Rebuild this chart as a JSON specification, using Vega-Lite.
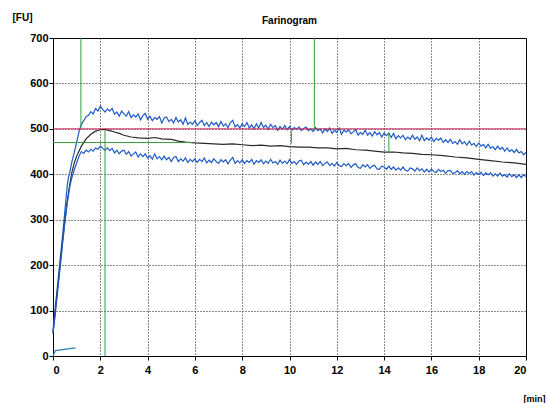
{
  "$schema": "https://vega.github.io/schema/vega-lite/v6.json",
  "width": 473,
  "height": 318,
  "autosize": {"type": "none"},
  "padding": {"left": 53, "top": 38, "right": 22, "bottom": 47},
  "background": "#ffffff",
  "config": {
    "font": "Liberation Sans",
    "view": {"stroke": "#000000", "strokeWidth": 1},
    "axis": {
      "labelFont": "Liberation Sans",
      "labelFontWeight": "bold",
      "labelFontSize": 11,
      "labelColor": "#000000",
      "domainColor": "#000000",
      "tickColor": "#000000",
      "gridColor": "#1a1a1a",
      "gridDash": [1, 2],
      "gridOpacity": 1,
      "gridWidth": 1,
      "titleFont": "Liberation Sans",
      "titleFontWeight": "bold",
      "titleFontSize": 10,
      "titleColor": "#000000"
    }
  },
  "title": {
    "text": "Farinogram",
    "fontSize": 10,
    "fontWeight": "bold",
    "font": "Liberation Sans",
    "anchor": "middle",
    "offset": -14,
    "color": "#000000"
  },
  "datasets": {
    "curves": [
      {"s": "start", "t": 0.0, "v": 0},
      {"s": "start", "t": 0.1, "v": 12},
      {"s": "start", "t": 0.95, "v": 18},

      {"s": "upper", "t": 0.0, "v": 55},
      {"s": "upper", "t": 0.1, "v": 110},
      {"s": "upper", "t": 0.2, "v": 160},
      {"s": "upper", "t": 0.3, "v": 212},
      {"s": "upper", "t": 0.4, "v": 262},
      {"s": "upper", "t": 0.5, "v": 318},
      {"s": "upper", "t": 0.6, "v": 375},
      {"s": "upper", "t": 0.65, "v": 392},
      {"s": "upper", "t": 0.7, "v": 402},
      {"s": "upper", "t": 0.8, "v": 428},
      {"s": "upper", "t": 0.9, "v": 448},
      {"s": "upper", "t": 1.0, "v": 470},
      {"s": "upper", "t": 1.1, "v": 494},
      {"s": "upper", "t": 1.2, "v": 510},
      {"s": "upper", "t": 1.3, "v": 518},
      {"s": "upper", "t": 1.4, "v": 527},
      {"s": "upper", "t": 1.5, "v": 530},
      {"s": "upper", "t": 1.6, "v": 538},
      {"s": "upper", "t": 1.7, "v": 533},
      {"s": "upper", "t": 1.8, "v": 545},
      {"s": "upper", "t": 1.9, "v": 539},
      {"s": "upper", "t": 2.0, "v": 550},
      {"s": "upper", "t": 2.1, "v": 543},
      {"s": "upper", "t": 2.2, "v": 537},
      {"s": "upper", "t": 2.3, "v": 544},
      {"s": "upper", "t": 2.4, "v": 539},
      {"s": "upper", "t": 2.5, "v": 545},
      {"s": "upper", "t": 2.6, "v": 532},
      {"s": "upper", "t": 2.7, "v": 537},
      {"s": "upper", "t": 2.8, "v": 528},
      {"s": "upper", "t": 2.9, "v": 539},
      {"s": "upper", "t": 3.0, "v": 533},
      {"s": "upper", "t": 3.1, "v": 528},
      {"s": "upper", "t": 3.2, "v": 538},
      {"s": "upper", "t": 3.3, "v": 525},
      {"s": "upper", "t": 3.4, "v": 531},
      {"s": "upper", "t": 3.5, "v": 526},
      {"s": "upper", "t": 3.6, "v": 533},
      {"s": "upper", "t": 3.7, "v": 520},
      {"s": "upper", "t": 3.8, "v": 529},
      {"s": "upper", "t": 3.9, "v": 534},
      {"s": "upper", "t": 4.0, "v": 521},
      {"s": "upper", "t": 4.1, "v": 528},
      {"s": "upper", "t": 4.2, "v": 518},
      {"s": "upper", "t": 4.3, "v": 525},
      {"s": "upper", "t": 4.4, "v": 521},
      {"s": "upper", "t": 4.5, "v": 527},
      {"s": "upper", "t": 4.6, "v": 513},
      {"s": "upper", "t": 4.7, "v": 524},
      {"s": "upper", "t": 4.8, "v": 526},
      {"s": "upper", "t": 4.9, "v": 516},
      {"s": "upper", "t": 5.0, "v": 521},
      {"s": "upper", "t": 5.1, "v": 513},
      {"s": "upper", "t": 5.2, "v": 525},
      {"s": "upper", "t": 5.3, "v": 515},
      {"s": "upper", "t": 5.4, "v": 520},
      {"s": "upper", "t": 5.5, "v": 510},
      {"s": "upper", "t": 5.6, "v": 524},
      {"s": "upper", "t": 5.7, "v": 510},
      {"s": "upper", "t": 5.8, "v": 515},
      {"s": "upper", "t": 5.9, "v": 510},
      {"s": "upper", "t": 6.0, "v": 518},
      {"s": "upper", "t": 6.1, "v": 507},
      {"s": "upper", "t": 6.2, "v": 514},
      {"s": "upper", "t": 6.3, "v": 519},
      {"s": "upper", "t": 6.4, "v": 507},
      {"s": "upper", "t": 6.5, "v": 514},
      {"s": "upper", "t": 6.6, "v": 505},
      {"s": "upper", "t": 6.7, "v": 515},
      {"s": "upper", "t": 6.8, "v": 509},
      {"s": "upper", "t": 6.9, "v": 514},
      {"s": "upper", "t": 7.0, "v": 505},
      {"s": "upper", "t": 7.1, "v": 516},
      {"s": "upper", "t": 7.2, "v": 506},
      {"s": "upper", "t": 7.3, "v": 511},
      {"s": "upper", "t": 7.4, "v": 503},
      {"s": "upper", "t": 7.5, "v": 514},
      {"s": "upper", "t": 7.6, "v": 519},
      {"s": "upper", "t": 7.7, "v": 504},
      {"s": "upper", "t": 7.8, "v": 509},
      {"s": "upper", "t": 7.9, "v": 502},
      {"s": "upper", "t": 8.0, "v": 511},
      {"s": "upper", "t": 8.1, "v": 505},
      {"s": "upper", "t": 8.2, "v": 514},
      {"s": "upper", "t": 8.3, "v": 502},
      {"s": "upper", "t": 8.4, "v": 509},
      {"s": "upper", "t": 8.5, "v": 500},
      {"s": "upper", "t": 8.6, "v": 511},
      {"s": "upper", "t": 8.7, "v": 502},
      {"s": "upper", "t": 8.8, "v": 514},
      {"s": "upper", "t": 8.9, "v": 503},
      {"s": "upper", "t": 9.0, "v": 508},
      {"s": "upper", "t": 9.1, "v": 499},
      {"s": "upper", "t": 9.2, "v": 510},
      {"s": "upper", "t": 9.3, "v": 503},
      {"s": "upper", "t": 9.4, "v": 507},
      {"s": "upper", "t": 9.5, "v": 497},
      {"s": "upper", "t": 9.6, "v": 505},
      {"s": "upper", "t": 9.7, "v": 499},
      {"s": "upper", "t": 9.8, "v": 507},
      {"s": "upper", "t": 9.9, "v": 498},
      {"s": "upper", "t": 10.0, "v": 505},
      {"s": "upper", "t": 10.1, "v": 497},
      {"s": "upper", "t": 10.2, "v": 503},
      {"s": "upper", "t": 10.3, "v": 499},
      {"s": "upper", "t": 10.4, "v": 504},
      {"s": "upper", "t": 10.5, "v": 496},
      {"s": "upper", "t": 10.6, "v": 501},
      {"s": "upper", "t": 10.7, "v": 504},
      {"s": "upper", "t": 10.8, "v": 496},
      {"s": "upper", "t": 10.9, "v": 500},
      {"s": "upper", "t": 11.0, "v": 494},
      {"s": "upper", "t": 11.1, "v": 503},
      {"s": "upper", "t": 11.2, "v": 496},
      {"s": "upper", "t": 11.3, "v": 500},
      {"s": "upper", "t": 11.4, "v": 491},
      {"s": "upper", "t": 11.5, "v": 500},
      {"s": "upper", "t": 11.6, "v": 494},
      {"s": "upper", "t": 11.7, "v": 502},
      {"s": "upper", "t": 11.8, "v": 490},
      {"s": "upper", "t": 11.9, "v": 497},
      {"s": "upper", "t": 12.0, "v": 492},
      {"s": "upper", "t": 12.1, "v": 502},
      {"s": "upper", "t": 12.2, "v": 488},
      {"s": "upper", "t": 12.3, "v": 497},
      {"s": "upper", "t": 12.4, "v": 493},
      {"s": "upper", "t": 12.5, "v": 498},
      {"s": "upper", "t": 12.6, "v": 489},
      {"s": "upper", "t": 12.7, "v": 494},
      {"s": "upper", "t": 12.8, "v": 498},
      {"s": "upper", "t": 12.9, "v": 486},
      {"s": "upper", "t": 13.0, "v": 492},
      {"s": "upper", "t": 13.1, "v": 488},
      {"s": "upper", "t": 13.2, "v": 497},
      {"s": "upper", "t": 13.3, "v": 486},
      {"s": "upper", "t": 13.4, "v": 492},
      {"s": "upper", "t": 13.5, "v": 484},
      {"s": "upper", "t": 13.6, "v": 494},
      {"s": "upper", "t": 13.7, "v": 487},
      {"s": "upper", "t": 13.8, "v": 492},
      {"s": "upper", "t": 13.9, "v": 482},
      {"s": "upper", "t": 14.0, "v": 491},
      {"s": "upper", "t": 14.1, "v": 485},
      {"s": "upper", "t": 14.2, "v": 491},
      {"s": "upper", "t": 14.3, "v": 481},
      {"s": "upper", "t": 14.4, "v": 490},
      {"s": "upper", "t": 14.5, "v": 478},
      {"s": "upper", "t": 14.6, "v": 485},
      {"s": "upper", "t": 14.7, "v": 480},
      {"s": "upper", "t": 14.8, "v": 486},
      {"s": "upper", "t": 14.9, "v": 476},
      {"s": "upper", "t": 15.0, "v": 482},
      {"s": "upper", "t": 15.1, "v": 477},
      {"s": "upper", "t": 15.2, "v": 486},
      {"s": "upper", "t": 15.3, "v": 477},
      {"s": "upper", "t": 15.4, "v": 482},
      {"s": "upper", "t": 15.5, "v": 474},
      {"s": "upper", "t": 15.6, "v": 486},
      {"s": "upper", "t": 15.7, "v": 474},
      {"s": "upper", "t": 15.8, "v": 480},
      {"s": "upper", "t": 15.9, "v": 475},
      {"s": "upper", "t": 16.0, "v": 482},
      {"s": "upper", "t": 16.1, "v": 472},
      {"s": "upper", "t": 16.2, "v": 479},
      {"s": "upper", "t": 16.3, "v": 475},
      {"s": "upper", "t": 16.4, "v": 480},
      {"s": "upper", "t": 16.5, "v": 470},
      {"s": "upper", "t": 16.6, "v": 476},
      {"s": "upper", "t": 16.7, "v": 470},
      {"s": "upper", "t": 16.8, "v": 477},
      {"s": "upper", "t": 16.9, "v": 468},
      {"s": "upper", "t": 17.0, "v": 472},
      {"s": "upper", "t": 17.1, "v": 466},
      {"s": "upper", "t": 17.2, "v": 476},
      {"s": "upper", "t": 17.3, "v": 467},
      {"s": "upper", "t": 17.4, "v": 472},
      {"s": "upper", "t": 17.5, "v": 464},
      {"s": "upper", "t": 17.6, "v": 473},
      {"s": "upper", "t": 17.7, "v": 464},
      {"s": "upper", "t": 17.8, "v": 468},
      {"s": "upper", "t": 17.9, "v": 461},
      {"s": "upper", "t": 18.0, "v": 469},
      {"s": "upper", "t": 18.1, "v": 462},
      {"s": "upper", "t": 18.2, "v": 466},
      {"s": "upper", "t": 18.3, "v": 458},
      {"s": "upper", "t": 18.4, "v": 466},
      {"s": "upper", "t": 18.5, "v": 457},
      {"s": "upper", "t": 18.6, "v": 461},
      {"s": "upper", "t": 18.7, "v": 454},
      {"s": "upper", "t": 18.8, "v": 462},
      {"s": "upper", "t": 18.9, "v": 455},
      {"s": "upper", "t": 19.0, "v": 459},
      {"s": "upper", "t": 19.1, "v": 451},
      {"s": "upper", "t": 19.2, "v": 458},
      {"s": "upper", "t": 19.3, "v": 450},
      {"s": "upper", "t": 19.4, "v": 454},
      {"s": "upper", "t": 19.5, "v": 448},
      {"s": "upper", "t": 19.6, "v": 455},
      {"s": "upper", "t": 19.7, "v": 447},
      {"s": "upper", "t": 19.8, "v": 450},
      {"s": "upper", "t": 19.9, "v": 443},
      {"s": "upper", "t": 20.0, "v": 449},

      {"s": "mean", "t": 0.0, "v": 50},
      {"s": "mean", "t": 0.1, "v": 100},
      {"s": "mean", "t": 0.2, "v": 150},
      {"s": "mean", "t": 0.3, "v": 200},
      {"s": "mean", "t": 0.4, "v": 250},
      {"s": "mean", "t": 0.5, "v": 298},
      {"s": "mean", "t": 0.6, "v": 340},
      {"s": "mean", "t": 0.7, "v": 375},
      {"s": "mean", "t": 0.8, "v": 405},
      {"s": "mean", "t": 0.9, "v": 425},
      {"s": "mean", "t": 1.0, "v": 440},
      {"s": "mean", "t": 1.2, "v": 462},
      {"s": "mean", "t": 1.4, "v": 478},
      {"s": "mean", "t": 1.6, "v": 488},
      {"s": "mean", "t": 1.8, "v": 495},
      {"s": "mean", "t": 2.0, "v": 498},
      {"s": "mean", "t": 2.2, "v": 499},
      {"s": "mean", "t": 2.4, "v": 496},
      {"s": "mean", "t": 2.6, "v": 493},
      {"s": "mean", "t": 2.8, "v": 490},
      {"s": "mean", "t": 3.0, "v": 486},
      {"s": "mean", "t": 3.3, "v": 482},
      {"s": "mean", "t": 3.6, "v": 480},
      {"s": "mean", "t": 4.0, "v": 479},
      {"s": "mean", "t": 4.3, "v": 481},
      {"s": "mean", "t": 4.6, "v": 478},
      {"s": "mean", "t": 5.0, "v": 477},
      {"s": "mean", "t": 5.3, "v": 473},
      {"s": "mean", "t": 5.6, "v": 471},
      {"s": "mean", "t": 6.0, "v": 469},
      {"s": "mean", "t": 6.4, "v": 468},
      {"s": "mean", "t": 6.8, "v": 467},
      {"s": "mean", "t": 7.2, "v": 466},
      {"s": "mean", "t": 7.6, "v": 467},
      {"s": "mean", "t": 8.0, "v": 465},
      {"s": "mean", "t": 8.4, "v": 463},
      {"s": "mean", "t": 8.8, "v": 464},
      {"s": "mean", "t": 9.2, "v": 462},
      {"s": "mean", "t": 9.6, "v": 463},
      {"s": "mean", "t": 10.0, "v": 461},
      {"s": "mean", "t": 10.4, "v": 460},
      {"s": "mean", "t": 10.8, "v": 460},
      {"s": "mean", "t": 11.2, "v": 458},
      {"s": "mean", "t": 11.6, "v": 458},
      {"s": "mean", "t": 12.0, "v": 456},
      {"s": "mean", "t": 12.4, "v": 457},
      {"s": "mean", "t": 12.8, "v": 454},
      {"s": "mean", "t": 13.2, "v": 453},
      {"s": "mean", "t": 13.6, "v": 451},
      {"s": "mean", "t": 14.0, "v": 449},
      {"s": "mean", "t": 14.4, "v": 449},
      {"s": "mean", "t": 14.8, "v": 447},
      {"s": "mean", "t": 15.2, "v": 446},
      {"s": "mean", "t": 15.6, "v": 444},
      {"s": "mean", "t": 16.0, "v": 443},
      {"s": "mean", "t": 16.5, "v": 441},
      {"s": "mean", "t": 17.0, "v": 438},
      {"s": "mean", "t": 17.5, "v": 436},
      {"s": "mean", "t": 18.0, "v": 433},
      {"s": "mean", "t": 18.5, "v": 430},
      {"s": "mean", "t": 19.0, "v": 427},
      {"s": "mean", "t": 19.5, "v": 425},
      {"s": "mean", "t": 20.0, "v": 422},

      {"s": "lower", "t": 0.0, "v": 50},
      {"s": "lower", "t": 0.1, "v": 95},
      {"s": "lower", "t": 0.2, "v": 145},
      {"s": "lower", "t": 0.3, "v": 195},
      {"s": "lower", "t": 0.4, "v": 245},
      {"s": "lower", "t": 0.5, "v": 293},
      {"s": "lower", "t": 0.6, "v": 335},
      {"s": "lower", "t": 0.7, "v": 370},
      {"s": "lower", "t": 0.8, "v": 393},
      {"s": "lower", "t": 0.9, "v": 410},
      {"s": "lower", "t": 1.0, "v": 425},
      {"s": "lower", "t": 1.1, "v": 440},
      {"s": "lower", "t": 1.2, "v": 450},
      {"s": "lower", "t": 1.3, "v": 446},
      {"s": "lower", "t": 1.4, "v": 453},
      {"s": "lower", "t": 1.5, "v": 449},
      {"s": "lower", "t": 1.6, "v": 455},
      {"s": "lower", "t": 1.7, "v": 451},
      {"s": "lower", "t": 1.8, "v": 458},
      {"s": "lower", "t": 1.9, "v": 455},
      {"s": "lower", "t": 2.0, "v": 462},
      {"s": "lower", "t": 2.1, "v": 457},
      {"s": "lower", "t": 2.2, "v": 453},
      {"s": "lower", "t": 2.3, "v": 458},
      {"s": "lower", "t": 2.4, "v": 452},
      {"s": "lower", "t": 2.5, "v": 457},
      {"s": "lower", "t": 2.6, "v": 447},
      {"s": "lower", "t": 2.7, "v": 453},
      {"s": "lower", "t": 2.8, "v": 445},
      {"s": "lower", "t": 2.9, "v": 451},
      {"s": "lower", "t": 3.0, "v": 453},
      {"s": "lower", "t": 3.1, "v": 444},
      {"s": "lower", "t": 3.2, "v": 450},
      {"s": "lower", "t": 3.3, "v": 440},
      {"s": "lower", "t": 3.4, "v": 445},
      {"s": "lower", "t": 3.5, "v": 449},
      {"s": "lower", "t": 3.6, "v": 438},
      {"s": "lower", "t": 3.7, "v": 445},
      {"s": "lower", "t": 3.8, "v": 439},
      {"s": "lower", "t": 3.9, "v": 445},
      {"s": "lower", "t": 4.0, "v": 436},
      {"s": "lower", "t": 4.1, "v": 441},
      {"s": "lower", "t": 4.2, "v": 433},
      {"s": "lower", "t": 4.3, "v": 445},
      {"s": "lower", "t": 4.4, "v": 434},
      {"s": "lower", "t": 4.5, "v": 439},
      {"s": "lower", "t": 4.6, "v": 432},
      {"s": "lower", "t": 4.7, "v": 440},
      {"s": "lower", "t": 4.8, "v": 432},
      {"s": "lower", "t": 4.9, "v": 437},
      {"s": "lower", "t": 5.0, "v": 428},
      {"s": "lower", "t": 5.1, "v": 437},
      {"s": "lower", "t": 5.2, "v": 439},
      {"s": "lower", "t": 5.3, "v": 428},
      {"s": "lower", "t": 5.4, "v": 434},
      {"s": "lower", "t": 5.5, "v": 429},
      {"s": "lower", "t": 5.6, "v": 436},
      {"s": "lower", "t": 5.7, "v": 426},
      {"s": "lower", "t": 5.8, "v": 433},
      {"s": "lower", "t": 5.9, "v": 428},
      {"s": "lower", "t": 6.0, "v": 434},
      {"s": "lower", "t": 6.1, "v": 426},
      {"s": "lower", "t": 6.2, "v": 433},
      {"s": "lower", "t": 6.3, "v": 428},
      {"s": "lower", "t": 6.4, "v": 436},
      {"s": "lower", "t": 6.5, "v": 425},
      {"s": "lower", "t": 6.6, "v": 431},
      {"s": "lower", "t": 6.7, "v": 426},
      {"s": "lower", "t": 6.8, "v": 434},
      {"s": "lower", "t": 6.9, "v": 428},
      {"s": "lower", "t": 7.0, "v": 424},
      {"s": "lower", "t": 7.1, "v": 432},
      {"s": "lower", "t": 7.2, "v": 427},
      {"s": "lower", "t": 7.3, "v": 432},
      {"s": "lower", "t": 7.4, "v": 423},
      {"s": "lower", "t": 7.5, "v": 431},
      {"s": "lower", "t": 7.6, "v": 437},
      {"s": "lower", "t": 7.7, "v": 424},
      {"s": "lower", "t": 7.8, "v": 430},
      {"s": "lower", "t": 7.9, "v": 425},
      {"s": "lower", "t": 8.0, "v": 432},
      {"s": "lower", "t": 8.1, "v": 424},
      {"s": "lower", "t": 8.2, "v": 430},
      {"s": "lower", "t": 8.3, "v": 426},
      {"s": "lower", "t": 8.4, "v": 433},
      {"s": "lower", "t": 8.5, "v": 422},
      {"s": "lower", "t": 8.6, "v": 430},
      {"s": "lower", "t": 8.7, "v": 426},
      {"s": "lower", "t": 8.8, "v": 432},
      {"s": "lower", "t": 8.9, "v": 423},
      {"s": "lower", "t": 9.0, "v": 429},
      {"s": "lower", "t": 9.1, "v": 424},
      {"s": "lower", "t": 9.2, "v": 433},
      {"s": "lower", "t": 9.3, "v": 425},
      {"s": "lower", "t": 9.4, "v": 428},
      {"s": "lower", "t": 9.5, "v": 422},
      {"s": "lower", "t": 9.6, "v": 431},
      {"s": "lower", "t": 9.7, "v": 424},
      {"s": "lower", "t": 9.8, "v": 429},
      {"s": "lower", "t": 9.9, "v": 423},
      {"s": "lower", "t": 10.0, "v": 432},
      {"s": "lower", "t": 10.1, "v": 424},
      {"s": "lower", "t": 10.2, "v": 428},
      {"s": "lower", "t": 10.3, "v": 422},
      {"s": "lower", "t": 10.4, "v": 429},
      {"s": "lower", "t": 10.5, "v": 431},
      {"s": "lower", "t": 10.6, "v": 421},
      {"s": "lower", "t": 10.7, "v": 427},
      {"s": "lower", "t": 10.8, "v": 422},
      {"s": "lower", "t": 10.9, "v": 428},
      {"s": "lower", "t": 11.0, "v": 420},
      {"s": "lower", "t": 11.1, "v": 427},
      {"s": "lower", "t": 11.2, "v": 422},
      {"s": "lower", "t": 11.3, "v": 428},
      {"s": "lower", "t": 11.4, "v": 419},
      {"s": "lower", "t": 11.5, "v": 424},
      {"s": "lower", "t": 11.6, "v": 427},
      {"s": "lower", "t": 11.7, "v": 419},
      {"s": "lower", "t": 11.8, "v": 424},
      {"s": "lower", "t": 11.9, "v": 418},
      {"s": "lower", "t": 12.0, "v": 426},
      {"s": "lower", "t": 12.1, "v": 419},
      {"s": "lower", "t": 12.2, "v": 417},
      {"s": "lower", "t": 12.3, "v": 423},
      {"s": "lower", "t": 12.4, "v": 419},
      {"s": "lower", "t": 12.5, "v": 424},
      {"s": "lower", "t": 12.6, "v": 415},
      {"s": "lower", "t": 12.7, "v": 421},
      {"s": "lower", "t": 12.8, "v": 423},
      {"s": "lower", "t": 12.9, "v": 415},
      {"s": "lower", "t": 13.0, "v": 413},
      {"s": "lower", "t": 13.1, "v": 421},
      {"s": "lower", "t": 13.2, "v": 416},
      {"s": "lower", "t": 13.3, "v": 421},
      {"s": "lower", "t": 13.4, "v": 413},
      {"s": "lower", "t": 13.5, "v": 418},
      {"s": "lower", "t": 13.6, "v": 420},
      {"s": "lower", "t": 13.7, "v": 412},
      {"s": "lower", "t": 13.8, "v": 411},
      {"s": "lower", "t": 13.9, "v": 418},
      {"s": "lower", "t": 14.0, "v": 416},
      {"s": "lower", "t": 14.1, "v": 411},
      {"s": "lower", "t": 14.2, "v": 418},
      {"s": "lower", "t": 14.3, "v": 411},
      {"s": "lower", "t": 14.4, "v": 416},
      {"s": "lower", "t": 14.5, "v": 409},
      {"s": "lower", "t": 14.6, "v": 414},
      {"s": "lower", "t": 14.7, "v": 409},
      {"s": "lower", "t": 14.8, "v": 416},
      {"s": "lower", "t": 14.9, "v": 409},
      {"s": "lower", "t": 15.0, "v": 407},
      {"s": "lower", "t": 15.1, "v": 414},
      {"s": "lower", "t": 15.2, "v": 412},
      {"s": "lower", "t": 15.3, "v": 407},
      {"s": "lower", "t": 15.4, "v": 414},
      {"s": "lower", "t": 15.5, "v": 408},
      {"s": "lower", "t": 15.6, "v": 412},
      {"s": "lower", "t": 15.7, "v": 405},
      {"s": "lower", "t": 15.8, "v": 411},
      {"s": "lower", "t": 15.9, "v": 405},
      {"s": "lower", "t": 16.0, "v": 412},
      {"s": "lower", "t": 16.1, "v": 406},
      {"s": "lower", "t": 16.2, "v": 404},
      {"s": "lower", "t": 16.3, "v": 411},
      {"s": "lower", "t": 16.4, "v": 406},
      {"s": "lower", "t": 16.5, "v": 409},
      {"s": "lower", "t": 16.6, "v": 402},
      {"s": "lower", "t": 16.7, "v": 408},
      {"s": "lower", "t": 16.8, "v": 408},
      {"s": "lower", "t": 16.9, "v": 402},
      {"s": "lower", "t": 17.0, "v": 403},
      {"s": "lower", "t": 17.1, "v": 408},
      {"s": "lower", "t": 17.2, "v": 401},
      {"s": "lower", "t": 17.3, "v": 406},
      {"s": "lower", "t": 17.4, "v": 400},
      {"s": "lower", "t": 17.5, "v": 406},
      {"s": "lower", "t": 17.6, "v": 402},
      {"s": "lower", "t": 17.7, "v": 406},
      {"s": "lower", "t": 17.8, "v": 398},
      {"s": "lower", "t": 17.9, "v": 404},
      {"s": "lower", "t": 18.0, "v": 400},
      {"s": "lower", "t": 18.1, "v": 404},
      {"s": "lower", "t": 18.2, "v": 397},
      {"s": "lower", "t": 18.3, "v": 403},
      {"s": "lower", "t": 18.4, "v": 399},
      {"s": "lower", "t": 18.5, "v": 403},
      {"s": "lower", "t": 18.6, "v": 396},
      {"s": "lower", "t": 18.7, "v": 401},
      {"s": "lower", "t": 18.8, "v": 396},
      {"s": "lower", "t": 18.9, "v": 403},
      {"s": "lower", "t": 19.0, "v": 396},
      {"s": "lower", "t": 19.1, "v": 399},
      {"s": "lower", "t": 19.2, "v": 394},
      {"s": "lower", "t": 19.3, "v": 401},
      {"s": "lower", "t": 19.4, "v": 395},
      {"s": "lower", "t": 19.5, "v": 399},
      {"s": "lower", "t": 19.6, "v": 393},
      {"s": "lower", "t": 19.7, "v": 399},
      {"s": "lower", "t": 19.8, "v": 393},
      {"s": "lower", "t": 19.9, "v": 399},
      {"s": "lower", "t": 20.0, "v": 395}
    ],
    "vlines": [
      {"t": 1.18, "y1": 502, "y2": 700},
      {"t": 2.2, "y1": 0, "y2": 497},
      {"t": 11.05, "y1": 496, "y2": 700},
      {"t": 10.08, "y1": 468, "y2": 494},
      {"t": 14.2, "y1": 447, "y2": 492}
    ],
    "hlines": [
      {"t1": 0, "t2": 5.9, "v": 470}
    ],
    "consistency": [
      {"v": 500}
    ]
  },
  "layer": [
    {
      "data": {"name": "curves"},
      "mark": {"type": "line", "strokeWidth": 1.2, "interpolate": "linear"},
      "encoding": {
        "x": {
          "field": "t",
          "type": "quantitative",
          "scale": {"domain": [0, 20], "nice": false},
          "axis": {
            "values": [0, 2, 4, 6, 8, 10, 12, 14, 16, 18, 20],
            "grid": true,
            "tickSize": 4,
            "labelPadding": 4,
            "title": "[min]",
            "titleAnchor": "start",
            "titleAlign": "left",
            "titleX": 470,
            "titleY": 45,
            "titleBaseline": "alphabetic",
            "titleFontSize": 9
          }
        },
        "y": {
          "field": "v",
          "type": "quantitative",
          "scale": {"domain": [0, 700], "nice": false},
          "axis": {
            "values": [0, 100, 200, 300, 400, 500, 600, 700],
            "grid": true,
            "tickSize": 4,
            "labelPadding": 1,
            "title": "[FU]",
            "titleAngle": 0,
            "titleAlign": "left",
            "titleBaseline": "alphabetic",
            "titleX": -41,
            "titleY": -18,
            "titleFontSize": 10
          }
        },
        "color": {
          "field": "s",
          "type": "nominal",
          "scale": {
            "domain": ["upper", "lower", "start", "mean"],
            "range": ["#1f5bc6", "#1f5bc6", "#2a7fc0", "#2b2b2b"]
          },
          "legend": null
        },
        "detail": {"field": "s"}
      }
    },
    {
      "data": {"name": "consistency"},
      "mark": {"type": "rule", "color": "#d0205a", "strokeWidth": 1},
      "encoding": {
        "y": {"field": "v", "type": "quantitative"}
      }
    },
    {
      "data": {"name": "hlines"},
      "mark": {"type": "rule", "color": "#3a9e3a", "strokeWidth": 1},
      "encoding": {
        "x": {"field": "t1", "type": "quantitative"},
        "x2": {"field": "t2"},
        "y": {"field": "v", "type": "quantitative"}
      }
    },
    {
      "data": {"name": "vlines"},
      "mark": {"type": "rule", "color": "#2e9e3e", "strokeWidth": 1},
      "encoding": {
        "x": {"field": "t", "type": "quantitative"},
        "y": {"field": "y1", "type": "quantitative"},
        "y2": {"field": "y2"}
      }
    }
  ]
}
